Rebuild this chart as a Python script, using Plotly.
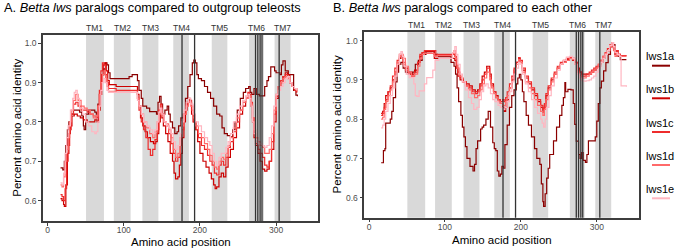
import plotly.graph_objects as go

# ---------------- data ----------------
series_names = ["lws1a", "lws1b", "lws1c", "lws1d", "lws1e"]
series_colors = ["#8B0000", "#CC0000", "#EE2C2C", "#FF6A6A", "#FFB6C1"]

# Panel A: Betta lws paralogs compared to outgroup teleosts
A_lws1a_pos = [17,20,22,24,26,28,31,34,38,42,45,47,48,50,54,58,62,64,66,68,70,72,74,76,78,80,82,95,104,107,111,116,118,120,123,125,130,134,140,143,145,147,149,151,154,157,159,161,164,167,170,172,175,178,181,184,187,190,192,194,196,198,202,206,210,214,218,222,226,229,232,236,240,243,246,249,253,257,260,264,266,268,271,274,278,282,285,288,290,293,296,298,300,303,305,307,309,312,316,320,323,326,328]
A_lws1a_val = [.683,.678,.70,.74,.78,.80,.82,.83,.83,.825,.815,.79,.78,.82,.83,.83,.825,.82,.845,.87,.90,.92,.935,.95,.945,.925,.91,.91,.91,.915,.92,.92,.905,.88,.86,.84,.835,.826,.826,.82,.85,.865,.845,.82,.83,.84,.82,.80,.785,.77,.775,.79,.81,.82,.86,.89,.92,.95,.957,.95,.92,.91,.905,.89,.875,.86,.84,.82,.815,.785,.77,.765,.762,.78,.80,.83,.86,.875,.885,.89,.875,.87,.885,.87,.866,.866,.89,.905,.915,.94,.94,.93,.925,.925,.92,.945,.955,.93,.92,.92,.88,.868,.865]

A_lws1b_pos = [17,19,21,22,24,26,28,30,32,35,39,43,47,52,57,62,65,67,69,71,73,75,77,79,81,90,100,110,116,118,120,122,125,128,131,135,139,142,144,146,148,150,152,155,158,161,164,166,168,171,173,175,177,179,181,183,185,187,189,191,194,197,200,204,208,212,215,218,220,222,225,228,231,234,237,240,244,248,252,256,260,263,265,267,269,271,273,276,279,282,285,288,291,294,297,300,303,306,309,312,315,318,321,324,327]
A_lws1b_val = [.605,.60,.59,.585,.64,.72,.77,.79,.815,.82,.815,.81,.805,.80,.80,.805,.80,.83,.87,.92,.945,.95,.93,.905,.895,.89,.89,.89,.89,.87,.84,.81,.79,.775,.76,.75,.745,.75,.77,.80,.82,.81,.79,.77,.75,.72,.70,.67,.655,.66,.69,.72,.76,.80,.83,.85,.86,.855,.82,.80,.78,.75,.72,.70,.685,.67,.655,.64,.63,.635,.66,.67,.66,.685,.71,.73,.76,.785,.82,.84,.86,.87,.865,.84,.80,.76,.74,.72,.70,.68,.675,.68,.70,.73,.80,.86,.89,.90,.915,.925,.92,.90,.89,.885,.875]

A_lws1c_pos = [17,19,21,23,25,27,29,31,34,37,40,44,48,52,56,60,64,66,68,70,72,74,76,78,80,90,100,110,116,118,120,123,126,129,132,135,138,141,144,146,148,150,153,156,159,162,165,168,171,174,176,179,182,185,187,189,192,195,198,202,206,210,213,216,219,222,225,228,231,234,237,240,244,248,252,256,260,263,265,267,269,271,273,276,279,282,285,288,291,294,297,300,303,306,309,312,315,318,321,324,327]
A_lws1c_val = [.615,.61,.60,.63,.70,.74,.78,.82,.845,.85,.84,.83,.83,.825,.82,.815,.81,.84,.88,.93,.95,.945,.92,.90,.885,.88,.88,.88,.88,.86,.83,.80,.78,.76,.73,.715,.73,.755,.78,.83,.845,.82,.80,.79,.77,.745,.72,.70,.71,.74,.78,.82,.845,.855,.85,.83,.80,.78,.76,.74,.73,.715,.70,.69,.67,.665,.69,.70,.69,.71,.735,.75,.775,.80,.83,.85,.865,.875,.87,.85,.81,.77,.745,.73,.72,.71,.69,.685,.70,.75,.82,.865,.89,.905,.915,.92,.915,.90,.89,.88,.875]

A_lws1d_pos = [17,19,21,23,25,27,29,31,34,37,40,44,48,52,56,60,64,66,68,70,72,74,76,78,80,90,100,110,116,118,120,123,126,130,134,138,141,144,146,148,150,153,156,159,162,165,168,171,174,176,179,182,185,188,191,194,198,202,206,210,213,216,219,222,225,228,231,234,237,240,244,248,252,256,260,263,265,267,269,271,273,276,279,282,285,288,291,294,297,300,303,306,309,312,315,318,321,324,327]
A_lws1d_val = [.64,.635,.66,.70,.73,.76,.80,.83,.855,.87,.855,.84,.835,.83,.82,.81,.815,.84,.87,.90,.92,.93,.91,.89,.878,.875,.875,.875,.875,.86,.84,.82,.80,.785,.77,.76,.775,.80,.82,.83,.815,.80,.795,.78,.76,.73,.71,.72,.76,.79,.82,.84,.85,.84,.81,.79,.77,.76,.745,.73,.715,.70,.685,.68,.70,.71,.705,.72,.74,.76,.785,.81,.83,.85,.86,.87,.865,.845,.81,.78,.76,.75,.74,.735,.72,.72,.73,.77,.83,.87,.89,.90,.91,.915,.91,.90,.89,.885,.88]

A_lws1e_pos = [17,19,21,23,25,27,30,33,35,37,39,42,46,50,54,58,62,64,66,68,70,72,74,76,78,80,90,100,110,116,118,120,123,126,130,134,138,141,144,146,148,150,153,156,159,162,165,168,171,174,176,179,182,185,188,191,194,198,202,206,210,213,216,219,222,225,228,231,234,237,240,244,248,252,256,260,263,265,267,269,271,273,276,279,282,285,288,291,294,297,300,303,306,309,312,315,318,321,324,327]
A_lws1e_val = [.645,.64,.67,.72,.76,.79,.83,.86,.875,.88,.86,.835,.82,.80,.79,.775,.77,.775,.80,.84,.88,.90,.91,.90,.88,.875,.875,.875,.875,.875,.855,.84,.82,.80,.79,.78,.77,.78,.80,.825,.835,.82,.80,.79,.785,.77,.75,.73,.74,.77,.80,.83,.85,.86,.845,.82,.80,.79,.775,.76,.75,.74,.72,.70,.69,.71,.72,.72,.735,.75,.77,.80,.82,.84,.855,.865,.87,.86,.84,.80,.77,.755,.745,.745,.74,.735,.74,.76,.79,.84,.87,.88,.89,.90,.91,.915,.90,.89,.885,.88]

# Panel B: Betta lws paralogs compared to each other
B_lws1a_pos = [16,18,19,21,22,25,28,30,32,35,37,39,42,45,48,52,57,61,65,70,75,82,86,90,100,105,108,112,114,116,118,121,123,125,127,129,133,137,139,141,143,147,149,151,154,157,160,163,165,167,169,171,173,175,177,179,182,185,188,191,194,196,198,200,202,204,207,210,214,218,221,223,225,227,229,230,232,234,236,238,243,247,251,254,256,258,259,262,266,269,271,273,276,278,280,282,285,287,289,295,298,300,302,304,306,309,312,315,318,321,324,328,331,339]
B_lws1a_val = [.689,.689,.72,.725,.79,.79,.80,.82,.855,.895,.92,.94,.945,.93,.92,.915,.92,.94,.95,.965,.972,.975,.965,.96,.96,.96,.945,.935,.915,.88,.845,.81,.78,.755,.73,.70,.68,.668,.685,.725,.745,.775,.78,.785,.80,.82,.78,.74,.725,.72,.668,.655,.66,.68,.675,.735,.785,.83,.86,.875,.89,.905,.914,.90,.87,.845,.81,.785,.755,.725,.70,.70,.685,.635,.59,.578,.61,.65,.675,.71,.745,.78,.81,.835,.855,.893,.87,.876,.875,.84,.787,.744,.71,.70,.715,.695,.69,.71,.745,.745,.755,.795,.84,.88,.897,.923,.944,.965,.985,.99,.965,.96,.952,.952]

B_lws1b_pos = [16,18,20,22,25,28,31,34,37,40,42,45,48,52,56,60,64,67,70,73,80,86,90,100,107,110,113,115,117,120,124,128,132,136,140,143,146,149,152,155,157,159,161,164,167,170,173,176,178,180,182,185,188,191,194,197,199,202,206,210,214,218,222,226,229,231,233,236,240,244,248,252,256,260,264,268,271,274,277,280,283,286,290,293,296,299,302,305,308,311,314,317,320,322,324,326,328,331,339]
B_lws1b_val = [.815,.82,.84,.86,.87,.88,.90,.92,.94,.955,.96,.945,.93,.92,.915,.925,.945,.96,.97,.972,.972,.955,.955,.955,.955,.955,.95,.93,.91,.90,.895,.89,.885,.875,.87,.875,.89,.91,.92,.935,.935,.915,.89,.87,.86,.85,.84,.83,.82,.83,.85,.88,.90,.925,.945,.955,.945,.925,.905,.89,.875,.86,.845,.83,.818,.83,.86,.88,.90,.915,.93,.94,.948,.952,.955,.95,.945,.93,.92,.915,.915,.915,.915,.92,.925,.93,.935,.945,.955,.965,.975,.985,.99,.98,.965,.975,.965,.962,.962]

B_lws1c_pos = [16,18,20,22,25,28,31,34,37,40,42,45,48,52,56,60,64,67,70,73,80,86,88,90,100,107,110,113,115,117,120,124,128,132,136,140,143,146,149,152,155,157,159,161,164,167,170,173,176,178,180,182,185,188,191,194,197,199,202,206,210,214,218,222,226,229,231,233,236,240,244,248,252,256,260,264,268,271,274,277,280,283,286,290,293,296,299,302,305,308,311,314,317,320,322,324,326,328,331,339]
B_lws1c_val = [.81,.815,.83,.85,.87,.885,.91,.93,.95,.965,.96,.94,.925,.915,.91,.92,.945,.965,.97,.975,.975,.975,.96,.965,.965,.965,.965,.96,.94,.92,.905,.895,.885,.88,.87,.865,.87,.885,.90,.915,.93,.93,.91,.885,.87,.855,.85,.845,.85,.845,.855,.87,.89,.91,.93,.945,.957,.95,.93,.91,.895,.88,.865,.85,.835,.825,.84,.865,.885,.905,.92,.935,.945,.95,.955,.957,.955,.945,.925,.92,.91,.91,.915,.92,.925,.93,.935,.94,.95,.96,.97,.98,.99,.995,.985,.97,.975,.965,.962,.962]

B_lws1d_pos = [16,18,20,22,25,28,31,34,37,40,42,45,48,52,56,60,64,67,70,73,80,86,90,100,107,110,112,114,116,119,123,127,131,135,139,143,146,149,152,155,157,159,161,164,167,170,173,176,178,180,182,185,188,191,194,197,199,202,206,210,214,218,222,226,229,231,233,236,240,244,248,252,256,260,264,268,271,274,277,280,283,286,290,293,296,299,302,305,308,311,314,317,320,322,324,326,328,331,339]
B_lws1d_val = [.80,.805,.825,.845,.86,.875,.895,.92,.945,.96,.965,.955,.935,.92,.91,.915,.935,.955,.965,.968,.968,.96,.962,.962,.962,.968,.975,.955,.93,.91,.895,.885,.875,.865,.855,.86,.875,.89,.905,.92,.92,.90,.88,.865,.855,.845,.84,.835,.835,.845,.86,.88,.905,.925,.94,.952,.945,.92,.895,.88,.865,.85,.835,.82,.81,.825,.85,.875,.895,.915,.93,.94,.945,.95,.955,.952,.94,.92,.912,.905,.905,.91,.915,.92,.925,.93,.94,.95,.96,.968,.975,.985,.99,.975,.96,.97,.962,.96,.96]

B_lws1e_pos = [16,18,20,22,25,28,31,34,37,40,42,44,46,49,53,57,59,61,63,66,70,73,76,80,84,87,92,100,106,110,113,115,117,120,123,127,131,135,138,142,145,148,151,154,157,160,163,166,170,173,176,179,182,185,188,191,194,197,199,202,206,210,214,218,222,226,228,230,232,234,237,240,244,248,252,256,260,264,268,271,274,277,280,283,286,290,293,296,299,302,305,308,311,314,317,320,322,324,327,330,332,339]
B_lws1e_val = [.778,.785,.80,.82,.84,.86,.88,.91,.94,.965,.972,.96,.935,.915,.906,.906,.89,.86,.858,.872,.872,.89,.906,.906,.925,.95,.955,.955,.955,.97,.985,.965,.94,.915,.895,.875,.855,.84,.825,.83,.85,.87,.885,.89,.88,.865,.85,.845,.835,.83,.825,.83,.845,.87,.895,.915,.93,.945,.94,.915,.89,.87,.85,.83,.815,.80,.79,.78,.80,.83,.86,.885,.905,.925,.94,.95,.958,.96,.955,.94,.915,.905,.898,.897,.898,.90,.905,.91,.92,.93,.945,.955,.965,.975,.988,.995,.985,.97,.965,.96,.885,.883]

# transmembrane regions and marked sites
tm_labels = ["TM1", "TM2", "TM3", "TM4", "TM5", "TM6", "TM7"]
tm_start = [50.5, 87, 124.5, 165, 215.5, 264.5, 298]
tm_end = [74, 109, 145.5, 185.5, 236, 284, 319]
site_pos = [176.5, 193, 273, 276, 279, 281.5, 304]

x_ticks = [0, 100, 200, 300]
y_ticks = [0.6, 0.7, 0.8, 0.9, 1.0]
y_tick_text = ["0.6", "0.7", "0.8", "0.9", "1.0"]

panelA = [(A_lws1a_pos, A_lws1a_val), (A_lws1b_pos, A_lws1b_val), (A_lws1c_pos, A_lws1c_val),
          (A_lws1d_pos, A_lws1d_val), (A_lws1e_pos, A_lws1e_val)]
panelB = [(B_lws1a_pos, B_lws1a_val), (B_lws1b_pos, B_lws1b_val), (B_lws1c_pos, B_lws1c_val),
          (B_lws1d_pos, B_lws1d_val), (B_lws1e_pos, B_lws1e_val)]

# ---------------- figure ----------------
W, H = 676, 249
FONT = "Liberation Sans, Arial, Helvetica, sans-serif"
fig = go.Figure()

for (px, pv), nm, col in zip(panelA, series_names, series_colors):
    fig.add_trace(go.Scatter(x=px, y=pv, mode="lines", name=nm, line=dict(color=col, width=1.2, shape="hv"),
                             xaxis="x", yaxis="y", showlegend=False))
for (px, pv), nm, col in zip(panelB, series_names, series_colors):
    fig.add_trace(go.Scatter(x=px, y=pv, mode="lines", name=nm, line=dict(color=col, width=1.2, shape="hv"),
                             xaxis="x2", yaxis="y2", showlegend=False))

def px2x(p):
    return p / W

def py2y(p):
    return 1 - p / H

axis_common = dict(showgrid=False, zeroline=False, showline=True, mirror=True, linecolor="#3d3d3d",
                   linewidth=1.5, ticks="outside", ticklen=3, tickwidth=1, tickcolor="#3d3d3d",
                   tickfont=dict(family=FONT, size=8.5, color="#4d4d4d"))

fig.update_layout(
    width=W, height=H, margin=dict(l=0, r=0, t=0, b=0),
    paper_bgcolor="white", plot_bgcolor="white",
    xaxis=dict(domain=[px2x(43), px2x(318)], range=[-6, 355], tickvals=x_ticks, anchor="y",
               ticklabelstandoff=-3, **axis_common),
    yaxis=dict(domain=[py2y(221), py2y(35)], range=[0.548, 1.021], tickvals=y_ticks, ticktext=y_tick_text,
               anchor="x", **axis_common),
    xaxis2=dict(domain=[px2x(364.3), px2x(639.3)], range=[-6.2, 356], tickvals=x_ticks, anchor="y2",
                ticklabelstandoff=-3, **axis_common),
    yaxis2=dict(domain=[py2y(217.7), py2y(31.7)], range=[0.549, 1.023], tickvals=y_ticks, ticktext=y_tick_text,
                anchor="x2", **axis_common),
)

shapes = []
annotations = []
for xa, ya in [("x", "y"), ("x2", "y2")]:
    for s, e in zip(tm_start, tm_end):
        shapes.append(dict(type="rect", xref=xa, yref=ya + " domain", x0=s, x1=e, y0=0, y1=1,
                           fillcolor="#d9d9d9", line=dict(width=0), layer="below"))
    for sp in site_pos:
        shapes.append(dict(type="line", xref=xa, yref=ya + " domain", x0=sp, x1=sp, y0=0, y1=1,
                           line=dict(color="#333333", width=1.3), layer="above"))
    for lab, s, e in zip(tm_labels, tm_start, tm_end):
        annotations.append(dict(text=lab, xref=xa, yref=ya + " domain", x=(s + e) / 2, y=1,
                                xanchor="center", yanchor="bottom", showarrow=False, yshift=-0.5,
                                font=dict(family=FONT, size=8.5, color="#333333")))

# titles
annotations.append(dict(text="A. <i>Betta lws</i> paralogs compared to outgroup teleosts", xref="paper", yref="paper",
                        x=px2x(2), y=py2y(7), xanchor="left", yanchor="middle", showarrow=False,
                        font=dict(family=FONT, size=12.8, color="#000000")))
annotations.append(dict(text="B. <i>Betta lws</i> paralogs compared to each other", xref="paper", yref="paper",
                        x=px2x(331), y=py2y(7), xanchor="left", yanchor="middle", showarrow=False,
                        font=dict(family=FONT, size=12.8, color="#000000")))
# axis titles
for cx, cy in [(180.5, 241.5), (501.8, 239.5)]:
    annotations.append(dict(text="Amino acid position", xref="paper", yref="paper", x=px2x(cx), y=py2y(cy),
                            xanchor="center", yanchor="middle", showarrow=False,
                            font=dict(family=FONT, size=11.5, color="#000000")))
for cx, cy in [(16.7, 128), (336.7, 124.7)]:
    annotations.append(dict(text="Percent amino acid identity", xref="paper", yref="paper", x=px2x(cx), y=py2y(cy),
                            xanchor="center", yanchor="middle", showarrow=False, textangle=-90,
                            font=dict(family=FONT, size=11.5, color="#000000")))

# legend (text above a short coloured line)
leg_line_y = [65.7, 98.3, 132, 165, 198.3]
for nm, col, ly in zip(series_names, series_colors, leg_line_y):
    annotations.append(dict(text=nm, xref="paper", yref="paper", x=px2x(660.4), y=py2y(ly - 9.5),
                            xanchor="center", yanchor="middle", showarrow=False,
                            font=dict(family=FONT, size=11, color="#000000")))
    shapes.append(dict(type="line", xref="paper", yref="paper", x0=px2x(652), x1=px2x(670),
                       y0=py2y(ly), y1=py2y(ly), line=dict(color=col, width=2)))

fig.update_layout(shapes=shapes, annotations=annotations)
fig.write_html("out.html")
